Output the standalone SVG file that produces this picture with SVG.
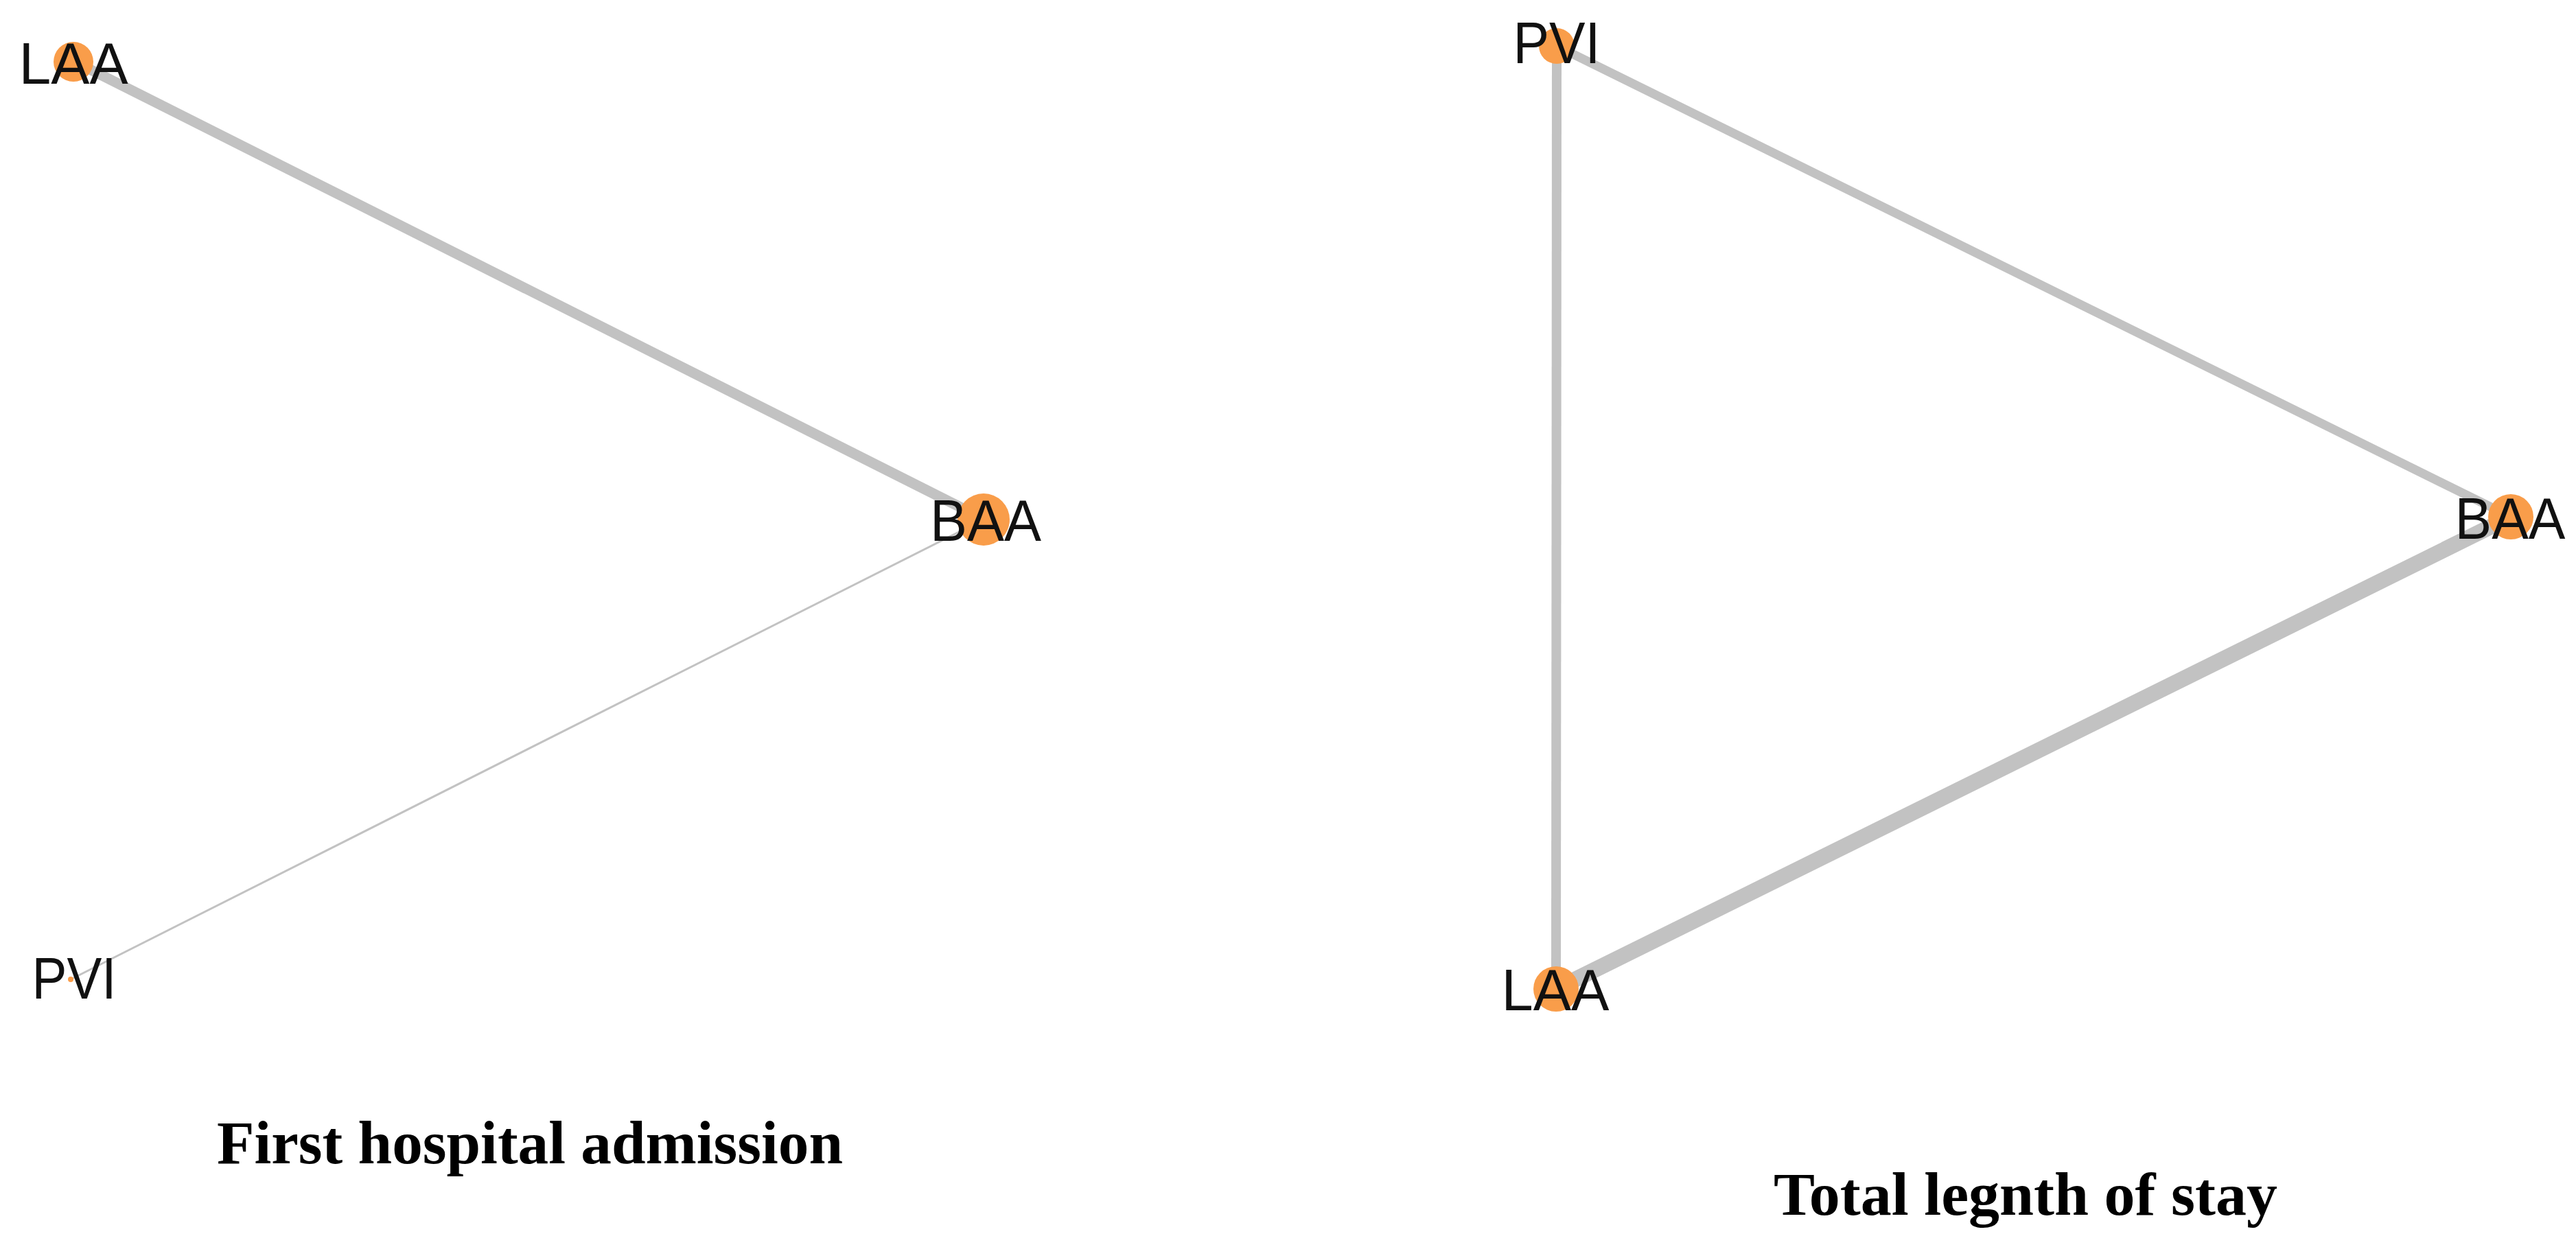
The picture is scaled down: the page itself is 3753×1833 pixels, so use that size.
<svg xmlns="http://www.w3.org/2000/svg" width="3753" height="1833" viewBox="0 0 3753 1833">
<style>
.edge{stroke:#c2c2c2;stroke-linecap:butt;fill:none}
.node circle{fill:#f99d4a}
.lbl{font-family:"Liberation Sans",Arial,sans-serif;font-size:86px;fill:#111;text-anchor:middle}
.title{font-family:"Liberation Serif","Times New Roman",serif;font-weight:bold;font-size:88px;fill:#000;text-anchor:middle}
</style>
<rect width="3753" height="1833" fill="#fff"/>
<g id="connectors">
<line class="edge" x1="107" y1="89" x2="1433" y2="756" stroke-width="15"/>
<line class="edge" x1="103" y1="1427" x2="1433" y2="757" stroke-width="3"/>
<line class="edge" x1="2268" y1="67" x2="2267" y2="1441" stroke-width="14"/>
<line class="edge" x1="2268" y1="67" x2="3658" y2="753" stroke-width="13"/>
<line class="edge" x1="2267" y1="1441" x2="3658" y2="753" stroke-width="23"/>
</g>
<g id="left-LAA" class="node"><circle cx="107" cy="90" r="29"/><text class="lbl" x="107" y="122" textLength="159" lengthAdjust="spacingAndGlyphs">LAA</text></g>
<g id="left-BAA" class="node"><circle cx="1433" cy="757" r="38"/><text class="lbl" x="1436" y="788" textLength="162" lengthAdjust="spacingAndGlyphs">BAA</text></g>
<g id="left-PVI" class="node"><circle cx="103" cy="1427" r="4"/><text class="lbl" x="108" y="1455" textLength="123" lengthAdjust="spacingAndGlyphs">PVI</text></g>
<g id="right-PVI" class="node"><circle cx="2268" cy="67" r="26"/><text class="lbl" x="2268" y="92" textLength="127" lengthAdjust="spacingAndGlyphs">PVI</text></g>
<g id="right-BAA" class="node"><circle cx="3658" cy="753" r="33"/><text class="lbl" x="3657" y="785" textLength="161" lengthAdjust="spacingAndGlyphs">BAA</text></g>
<g id="right-LAA" class="node"><circle cx="2267" cy="1441" r="33"/><text class="lbl" x="2266" y="1472" textLength="157" lengthAdjust="spacingAndGlyphs">LAA</text></g>
<g id="titles">
<text class="title" x="772" y="1695" textLength="912" lengthAdjust="spacingAndGlyphs">First hospital admission</text>
<text class="title" x="2951" y="1770" textLength="734" lengthAdjust="spacingAndGlyphs">Total legnth of stay</text>
</g>
</svg>
